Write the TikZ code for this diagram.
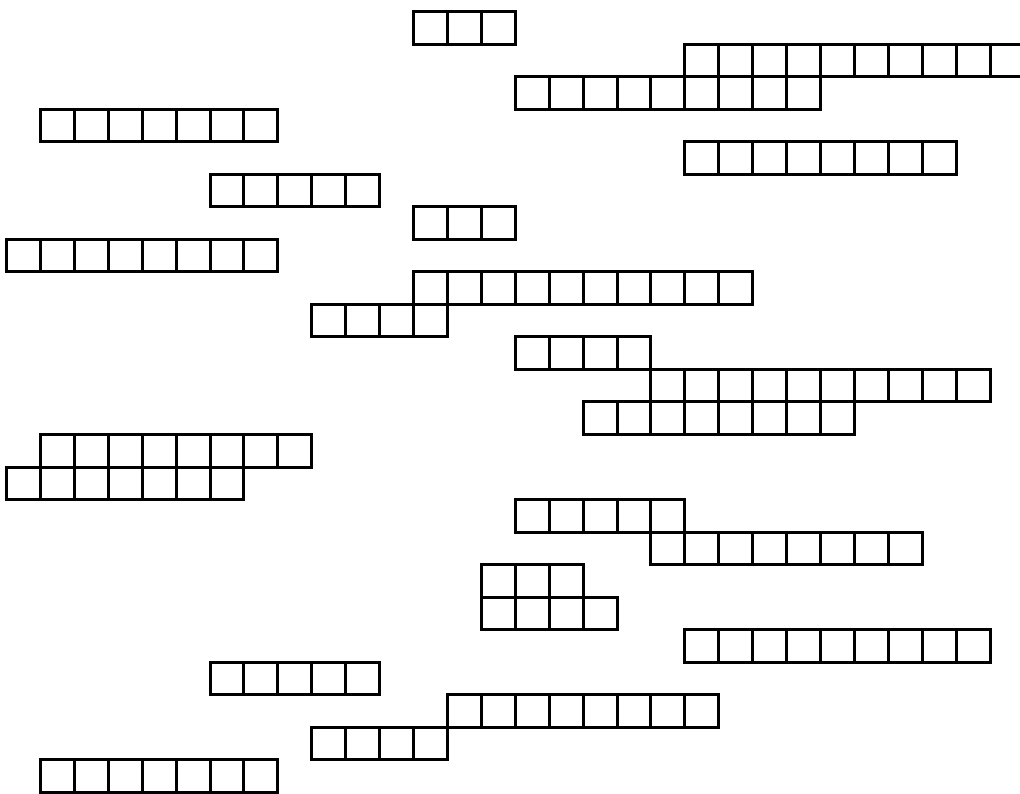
\documentclass[tikz,border=0pt]{standalone}
\begin{document}
\begin{tikzpicture}[x=33.92pt, y=-32.54pt,
  cellbox/.style={draw=black, line width=3pt, line join=miter}]
\useasboundingbox (-6.5pt,11.5pt) rectangle (1013.5pt,-782.5pt);
\fill[white] (-6.5pt,11.5pt) rectangle (1013.5pt,-782.5pt);
\clip (-6.5pt,11.5pt) rectangle (1013.5pt,-782.5pt);
\foreach \r/\c/\n in {0/12/3, 1/20/10, 2/15/9, 3/1/7, 4/20/8, 5/6/5, 6/12/3,
  7/0/8, 8/12/10, 9/9/4, 10/15/4, 11/19/10, 12/17/8, 13/1/8, 14/0/7,
  15/15/5, 16/19/8, 17/14/3, 18/14/4, 19/20/9, 20/6/5, 21/13/8, 22/9/4, 23/1/7}{
  \foreach \k in {1,...,\n}{
    \draw[cellbox] ({\c+\k-1},\r) rectangle ++(1,1);
  }
}
\end{tikzpicture}
\end{document}
